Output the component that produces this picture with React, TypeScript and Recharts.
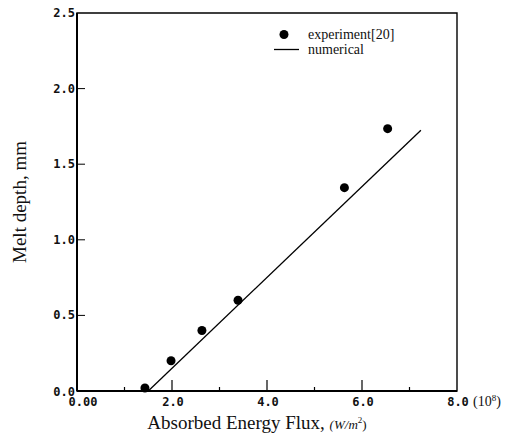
import React from 'react';
import { ComposedChart, Scatter, Line, XAxis, YAxis, Legend, ReferenceArea } from 'recharts';

// measured melt depth vs absorbed flux (flux in 1e8 W/m^2, depth in mm)
const experimentFlux = [1.43, 1.98, 2.63, 3.39, 5.63, 6.54];
const experimentDepth = [0.02, 0.2, 0.4, 0.6, 1.345, 1.735];

// numerical prediction, straight line segment
const numericalFlux = [1.5, 7.24];
const numericalDepth = [0.0, 1.725];

const xTicks = [0, 1, 2, 3, 4, 5, 6, 7, 8];
const xTickLabels: Record<number, string> = { 0: '0.00', 2: '2.0', 4: '4.0', 6: '6.0', 8: '8.0' };
const yTicks = [0, 0.5, 1, 1.5, 2, 2.5];
const yTickLabels = ['0.0', '0.5', '1.0', '1.5', '2.0', '2.5'];

const experiment = experimentFlux.map((x, i) => ({ x, y: experimentDepth[i] }));
const numerical = numericalFlux.map((x, i) => ({ x, y: numericalDepth[i] }));

const mono: React.CSSProperties = {
  fontFamily: "'DejaVu Sans Mono', monospace",
  fontWeight: 'bold',
  fontSize: 12,
  fill: '#111',
};
const serif = "'Liberation Serif', 'DejaVu Serif', serif";

const XTick = (props: any) => {
  const { x, y, payload } = props;
  const v = payload.value;
  const major = v % 2 === 0;
  const label = xTickLabels[v];
  return (
    <g>
      {v > 0 && v < 8 && (
        <line x1={x} y1={y} x2={x} y2={y - (major ? 11 : 4)} stroke="#000" strokeWidth={1.2} />
      )}
      {label && (
        <text x={v === 0 ? x + 6 : x + 1} y={y + 15} textAnchor="middle" style={mono}>
          {label}
        </text>
      )}
      {v === 8 && (
        <text x={x + 16} y={y + 15} style={{ fontFamily: serif, fontSize: 14, fill: '#111' }}>
          (10<tspan dy={-5} fontSize={9}>8</tspan>
          <tspan dy={5}>)</tspan>
        </text>
      )}
    </g>
  );
};

const YTick = (props: any) => {
  const { x, y, payload } = props;
  const v = payload.value;
  const idx = yTicks.indexOf(v);
  return (
    <g>
      {v > 0 && v < 2.5 && <line x1={x} y1={y} x2={x + 8} y2={y} stroke="#000" strokeWidth={1} />}
      <text x={x - 2} y={v === 0 ? y + 5 : y + 4} textAnchor="end" style={mono}>
        {yTickLabels[idx]}
      </text>
    </g>
  );
};

const XTitle = (props: any) => {
  const vb = props.viewBox || { x: 77, y: 391, width: 380, height: 42 };
  return (
    <text
      x={vb.x + vb.width / 2 - 10}
      y={vb.y + vb.height - 4}
      textAnchor="middle"
      style={{ fontFamily: serif, fontSize: 19, fill: '#111' }}
    >
      Absorbed Energy Flux,{' '}
      <tspan fontSize={13} fontStyle="italic">(W/m</tspan>
      <tspan fontSize={9} dy={-6}>2</tspan>
      <tspan fontSize={13} dy={6}>)</tspan>
    </text>
  );
};

const YTitle = (props: any) => {
  const vb = props.viewBox || { x: 0, y: 13, width: 77, height: 378 };
  const cx = vb.x + 26;
  const cy = vb.y + vb.height / 2;
  return (
    <text
      x={cx}
      y={cy}
      transform={`rotate(-90, ${cx}, ${cy})`}
      textAnchor="middle"
      style={{ fontFamily: serif, fontSize: 19, fill: '#111' }}
    >
      Melt depth, mm
    </text>
  );
};

const LegendBox = () => (
  <div style={{ fontFamily: serif, fontSize: 14, color: '#111', lineHeight: '15px' }}>
    <div style={{ display: 'flex', alignItems: 'center', height: 15 }}>
      <svg width={38} height={15}>
        <circle cx={14} cy={7.5} r={4.5} fill="#000" />
      </svg>
      <span>experiment[20]</span>
    </div>
    <div style={{ display: 'flex', alignItems: 'center', height: 15 }}>
      <svg width={38} height={15}>
        <line x1={4} y1={7.5} x2={29} y2={7.5} stroke="#000" strokeWidth={1.3} />
      </svg>
      <span>numerical</span>
    </div>
  </div>
);

export default function App() {
  return (
    <div style={{ position: 'absolute', left: 0, top: 0, width: 515, height: 433, background: '#fff' }}>
      <ComposedChart width={515} height={433} margin={{ top: 13, right: 58, bottom: 0, left: 0 }}>
        <XAxis
          type="number"
          dataKey="x"
          domain={[0, 8]}
          ticks={xTicks}
          interval={0}
          height={42}
          tickSize={0}
          tickMargin={0}
          tickLine={false}
          axisLine={{ stroke: '#000', strokeWidth: 2 }}
          tick={<XTick />}
          label={{ content: <XTitle /> }}
        />
        <YAxis
          type="number"
          dataKey="y"
          domain={[0, 2.5]}
          ticks={yTicks}
          interval={0}
          width={77}
          tickSize={0}
          tickMargin={0}
          tickLine={false}
          axisLine={{ stroke: '#000', strokeWidth: 2 }}
          tick={<YTick />}
          label={{ content: <YTitle /> }}
        />
        <ReferenceArea x1={0} x2={8} y1={0} y2={2.5} fill="none" stroke="#000" strokeWidth={1.4} />
        <Line
          data={numerical}
          dataKey="y"
          type="linear"
          stroke="#000"
          strokeWidth={1.3}
          dot={false}
          isAnimationActive={false}
        />
        <Scatter
          data={experiment}
          dataKey="y"
          fill="#000"
          isAnimationActive={false}
          shape={(p: any) => <circle cx={p.cx} cy={p.cy} r={4.5} fill="#000" />}
        />
        <Legend
          layout="horizontal"
          verticalAlign="middle"
          align="center"
          content={<LegendBox />}
          wrapperStyle={{ left: 270, top: 27, width: 'auto' }}
        />
      </ComposedChart>
    </div>
  );
}
